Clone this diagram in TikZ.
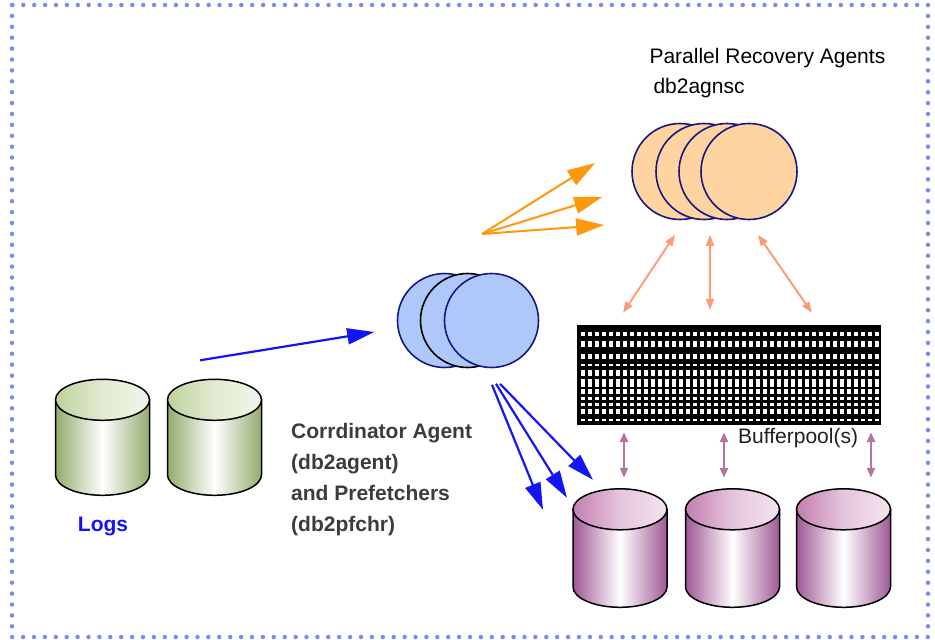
\documentclass[tikz,border=0pt]{standalone}
\usepackage{fontspec}
\setmainfont{Liberation Sans}
\usetikzlibrary{arrows.meta,calc}

\definecolor{dotblue}{RGB}{120,140,245}
\definecolor{agentfill}{RGB}{255,212,160}
\definecolor{coordfill}{RGB}{174,200,250}
\definecolor{rimnavy}{RGB}{24,24,130}
\definecolor{arrblue}{RGB}{20,20,245}
\definecolor{arrorange}{RGB}{255,152,10}
\definecolor{arrsalmon}{RGB}{255,155,115}
\definecolor{arrmauve}{RGB}{180,115,160}
\definecolor{logdark}{RGB}{148,172,110}
\definecolor{loglid}{RGB}{190,210,155}
\definecolor{diskdark}{RGB}{160,88,150}
\definecolor{disklid}{RGB}{196,126,176}
\definecolor{labelgray}{RGB}{60,60,60}

\tikzset{
  agent/.style={circle, minimum size=96pt, inner sep=0pt, fill=agentfill, draw=rimnavy, line width=1.6pt},
  coord/.style={circle, minimum size=94pt, inner sep=0pt, fill=coordfill, draw=rimnavy, line width=1.6pt},
  diskbox/.style={minimum width=94pt, minimum height=118pt, inner sep=0pt},
  bigfont/.style={font=\fontsize{21}{31}\selectfont},
  boldfont/.style={font=\fontsize{21}{31}\selectfont\bfseries},
  bluearr/.style={draw=arrblue, line width=2.2pt, -{Triangle[length=27pt,width=16pt]}},
  orangearr/.style={draw=arrorange, line width=2pt, -{Triangle[length=28pt,width=17pt]}},
  salmonarr/.style={draw=arrsalmon, line width=2pt, {Triangle[length=11pt,width=8pt]}-{Triangle[length=11pt,width=8pt]}},
  mauvearr/.style={draw=arrmauve, line width=2.4pt, {Triangle[length=10pt,width=8pt]}-{Triangle[length=10pt,width=8pt]}},
  pics/disk/.style n args={3}{code={
    % body, then the lid on top
    \path[draw=black, line width=1.5pt, left color=#1, right color=#1, middle color=white]
      (-47,20.5) -- (-47,20.5+#3) arc[start angle=180, end angle=0, x radius=47, y radius=20.5]
      -- (47,20.5) -- cycle;
    \path[draw=black, line width=1.5pt, left color=#2, right color=#2!20, middle color=#2!45]
      (0,20.5) ellipse[x radius=47, y radius=20.5];
  }}
}

\begin{document}
\begin{tikzpicture}[x=1pt, y=-1pt]
\useasboundingbox (0,0) rectangle (935,640);
\draw[dotblue, line width=4.5pt, line cap=round, dash pattern=on 0pt off 10.9pt] (12,5) rectangle (928,637);

% recovery agents
\node[agent] (r1) at (680,171.5) {};
\node[agent] (r2) at (704,171.5) {};
\node[agent] (r3) at (727,171.5) {};
\node[agent] (r4) at (749,171.5) {};
\node[bigfont, anchor=base west] (pratitle) at (646,63) {Parallel Recovery Agents};
\node[bigfont, anchor=base west] (pracmd) at (650,93) {db2agnsc};

% coordinator agent
\node[coord] (c1) at (444.5,320.5) {};
\node[coord, draw=black] (c2) at (467.5,320.5) {};
\node[coord] (c3) at (491.5,320.5) {};
\node[boldfont, text=labelgray, align=left, anchor=north west, inner sep=0pt] (catext) at (291,423)
  {Corrdinator Agent\\(db2agent)\\and Prefetchers\\(db2pfchr)};

% bufferpool: black block with a grid of white cells
\node[fill=black, minimum width=304pt, minimum height=100pt, inner sep=0pt] (bp) at (729,375) {};
\foreach \r/\h in {332/4, 340.5/6.5, 353.5/5, 363.5/2.5, 370/5.5, 379/8, 389/4.5, 397/2.5, 403/2.5, 409/5, 418.5/2.5}
  \foreach \i in {0,...,42}
    \fill[white] (581+\i*7,\r) rectangle ++(4,\h);
\node[bigfont, text=black!88, anchor=base west, inner sep=0pt] (bptext) at (738,443) {Bufferpool(s)};

% logs
\node[diskbox] (l1) at (102.5,438.5) {};
\node[diskbox] (l2) at (214.5,438.5) {};
\pic at (l1.north) {disk={logdark}{loglid}{75}};
\pic at (l2.north) {disk={logdark}{loglid}{75}};
\node[boldfont, text=arrblue, anchor=base] (logtext) at (103,531) {Logs};

% table spaces
\node[diskbox] (d1) at (620,548) {};
\node[diskbox] (d2) at (732.5,548) {};
\node[diskbox] (d3) at (843.5,548) {};
\pic at (d1.north) {disk={diskdark}{disklid}{77.5}};
\pic at (d2.north) {disk={diskdark}{disklid}{77.5}};
\pic at (d3.north) {disk={diskdark}{disklid}{77.5}};

% arrows
\coordinate (fan) at (482,234);
\draw[orangearr] (fan) -- ($(r1.west)+(-36,-8.5)$);
\draw[orangearr] (fan) -- ($(r1.west)+(-29,25.5)$);
\draw[orangearr] (fan) -- ($(r1.west)+(-27,53.5)$);

\draw[salmonarr] ($(r1.south)+(-5,14.5)$) -- ($(bp.north)+(-106,-12)$);
\draw[salmonarr] ($(r2.south)+(6,14.5)$) -- ($(bp.north)+(-19,-15)$);
\draw[salmonarr] ($(r4.south)+(9,14.5)$) -- ($(bp.north)+(83,-12)$);

\draw[bluearr] ($(l2.north)+(-14.5,-19)$) -- ($(c1.west)+(-22.5,11.5)$);
\draw[bluearr] ($(c3.south)+(0.5,16.5)$) -- ($(d1.north)+(-77,21)$);
\draw[bluearr] ($(c3.south)+(4.5,15.5)$) -- ($(d1.north)+(-53,9)$);
\draw[bluearr] ($(c3.south)+(8.5,15.5)$) -- ($(d1.north)+(-27,-9)$);

\draw[mauvearr] ($(bp.south)+(-105,7)$) -- ($(d1.north)+(4,-11)$);
\draw[mauvearr] ($(bp.south)+(-5,7)$) -- ($(d2.north)+(-8.5,-11)$);
\draw[mauvearr] ($(bp.south)+(142,7)$) -- ($(d3.north)+(27.5,-11)$);
\end{tikzpicture}
\end{document}
